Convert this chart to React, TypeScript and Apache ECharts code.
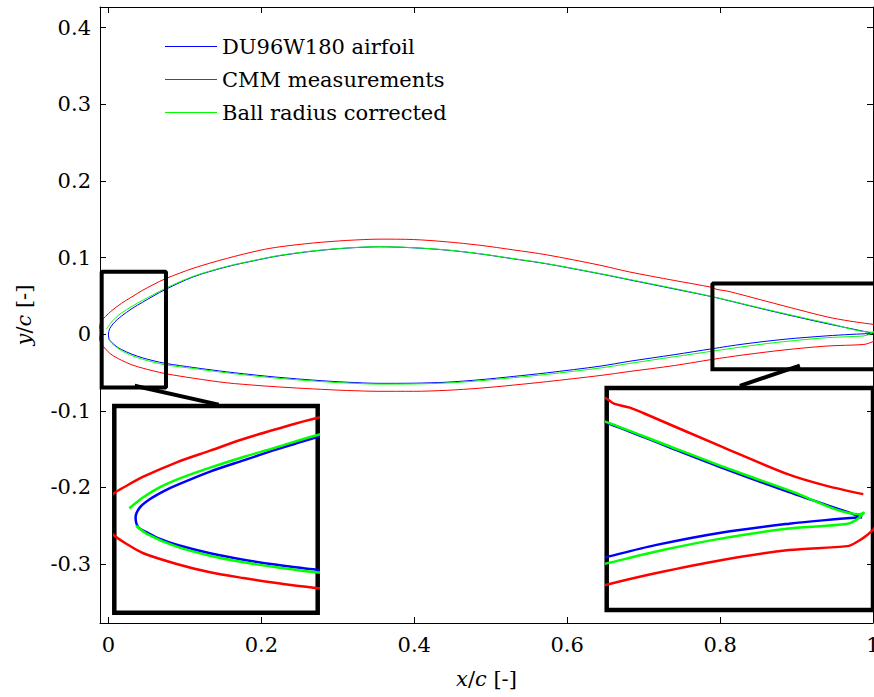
import React, { useEffect, useRef } from "react";
import * as echarts from "echarts";

const xTicks = [0, 0.2, 0.4, 0.6, 0.8, 1];
const yTicks = [-0.3, -0.2, -0.1, 0, 0.1, 0.2, 0.3, 0.4];

const seriesNames = ["DU96W180 airfoil", "CMM measurements", "Ball radius corrected"];

// DU96W180 airfoil: TE upper -> LE -> TE lower
const blueX = [1.0, 0.995, 0.94, 0.885, 0.84, 0.79, 0.74, 0.681, 0.643, 0.5733, 0.5296, 0.486, 0.4425, 0.3988, 0.3552, 0.3117, 0.268, 0.2244, 0.1983, 0.1547, 0.111, 0.0749, 0.0584, 0.0446, 0.0308, 0.017, 0.0115, 0.006, 0.0018, 0.0, 0.0011, 0.0046, 0.0101, 0.017, 0.0308, 0.0446, 0.0584, 0.0749, 0.111, 0.1547, 0.1983, 0.2244, 0.268, 0.3117, 0.3552, 0.3988, 0.4425, 0.486, 0.5296, 0.5733, 0.643, 0.681, 0.74, 0.79, 0.83, 0.885, 0.94, 0.97, 1.0];
const blueY = [0.001, 0.0022, 0.0137, 0.026, 0.0367, 0.0487, 0.059, 0.071, 0.0787, 0.0918, 0.0983, 0.1048, 0.1097, 0.1127, 0.114, 0.1123, 0.1084, 0.1025, 0.0975, 0.0879, 0.0748, 0.0585, 0.0496, 0.0416, 0.0334, 0.0235, 0.019, 0.0134, 0.0073, 0.0, -0.0073, -0.0109, -0.0158, -0.02, -0.0262, -0.0309, -0.0346, -0.0382, -0.0435, -0.0492, -0.054, -0.0565, -0.06, -0.0627, -0.0642, -0.064, -0.0627, -0.0595, -0.0552, -0.0505, -0.0418, -0.0355, -0.0268, -0.019, -0.013, -0.0066, -0.0022, -0.0004, 0.001];

// CMM measurements: TE upper -> LE -> lower -> past TE
const redX = [1.001, 0.97, 0.94, 0.885, 0.82, 0.809, 0.796, 0.789, 0.74, 0.681, 0.643, 0.5733, 0.5296, 0.486, 0.4425, 0.3988, 0.3552, 0.3117, 0.268, 0.2244, 0.1983, 0.1547, 0.111, 0.0749, 0.0584, 0.0446, 0.0308, 0.017, 0.0032, -0.0037, -0.0092, -0.0115, -0.0125, -0.0115, -0.0096, -0.0037, 0.0032, 0.017, 0.0308, 0.0446, 0.0584, 0.0749, 0.111, 0.1547, 0.1983, 0.2244, 0.268, 0.3117, 0.3552, 0.3988, 0.4425, 0.486, 0.5296, 0.5733, 0.643, 0.681, 0.74, 0.789, 0.83, 0.885, 0.94, 0.988, 0.996, 1.004, 1.01, 1.013];
const redY = [0.0127, 0.017, 0.0225, 0.0365, 0.0536, 0.0563, 0.0583, 0.0611, 0.0701, 0.0813, 0.09, 0.1035, 0.11, 0.116, 0.1205, 0.1235, 0.124, 0.1223, 0.119, 0.114, 0.1095, 0.0988, 0.086, 0.0725, 0.0645, 0.0572, 0.0487, 0.0402, 0.0297, 0.0231, 0.0171, 0.0105, 0.002, -0.0065, -0.0121, -0.0194, -0.0262, -0.034, -0.0401, -0.0443, -0.0479, -0.0516, -0.0575, -0.0635, -0.0672, -0.069, -0.0715, -0.0735, -0.0746, -0.0746, -0.0733, -0.0705, -0.0665, -0.062, -0.054, -0.0488, -0.041, -0.0331, -0.0272, -0.0205, -0.0155, -0.0135, -0.0113, -0.008, -0.0046, 0.0];

// Ball radius corrected: LE upper start -> TE -> lower -> LE lower start
const greenX = [-0.0026, 0.0032, 0.0101, 0.017, 0.0308, 0.0446, 0.0584, 0.0749, 0.111, 0.1547, 0.1983, 0.2244, 0.268, 0.3117, 0.3552, 0.3988, 0.4425, 0.486, 0.5296, 0.5733, 0.643, 0.681, 0.74, 0.79, 0.84, 0.885, 0.94, 0.998, 1.002, 0.995, 0.987, 0.94, 0.885, 0.84, 0.79, 0.74, 0.681, 0.643, 0.5733, 0.5296, 0.486, 0.4425, 0.3988, 0.3552, 0.3117, 0.268, 0.2244, 0.1983, 0.1547, 0.111, 0.0749, 0.0584, 0.0446, 0.0308, 0.017, 0.0046, 0.0002];
const greenY = [0.0066, 0.0147, 0.022, 0.0276, 0.0363, 0.0441, 0.0513, 0.06, 0.0755, 0.0884, 0.0979, 0.1029, 0.1087, 0.1125, 0.1142, 0.1129, 0.1099, 0.105, 0.0986, 0.0921, 0.0791, 0.0715, 0.0596, 0.049, 0.0372, 0.0267, 0.0146, 0.0026, 0.0035, -0.0004, -0.0024, -0.0046, -0.0096, -0.015, -0.0222, -0.0295, -0.0383, -0.0442, -0.0525, -0.0568, -0.0608, -0.0638, -0.065, -0.0652, -0.0638, -0.0612, -0.0578, -0.0553, -0.0505, -0.0448, -0.0401, -0.0365, -0.0328, -0.028, -0.0214, -0.012, -0.0061];

// zoom regions (data units) and connector lines
const leBoxX = [-0.0088, 0.0753];
const leBoxY = [-0.0696, 0.0813];
const teBoxX = [0.79, 1.009];
const teBoxY = [-0.0457, 0.0662];
const leLinkX = [0.037, 0.1416];
const leLinkY = [-0.0679, -0.0914];
const teLinkX = [0.9019, 0.8283];
const teLinkY = [-0.0418, -0.0666];

const colors = ["#0000ff", "#ff0000", "#00ff00"];
const FONT = "DejaVu Serif";
const FS = 21;

const zip = (xs: number[], ys: number[]) => xs.map((x, i) => [x, ys[i]]);
const boxData = (bx: number[], by: number[]) => [
  [bx[0], by[0]],
  [bx[1], by[0]],
  [bx[1], by[1]],
  [bx[0], by[1]],
  [bx[0], by[0]],
];
const fmt = (v: number) => String(parseFloat(v.toFixed(2)));

export default function App() {
  const ref = useRef<HTMLDivElement>(null);
  useEffect(() => {
    if (!ref.current) return;
    const chart = echarts.init(ref.current, null, { renderer: "svg" });
    const curves = [zip(blueX, blueY), zip(redX, redY), zip(greenX, greenY)];

    const mainSeries = curves.map((d, i) => ({
      type: "line",
      name: seriesNames[i],
      xAxisIndex: 0,
      yAxisIndex: 0,
      data: d,
      showSymbol: false,
      symbol: "none",
      smooth: 0.3,
      lineStyle: { color: colors[i], width: 1 },
      itemStyle: { color: colors[i] },
      z: 3,
    }));
    const insetSeries = [1, 2].flatMap((g) =>
      curves.map((d, i) => ({
        type: "line",
        name: seriesNames[i],
        xAxisIndex: g + 1,
        yAxisIndex: g + 1,
        data: d,
        showSymbol: false,
        symbol: "none",
        smooth: 0.3,
        clip: true,
        lineStyle: { color: colors[i], width: 2.5 },
        itemStyle: { color: colors[i] },
        z: 10,
      }))
    );
    const blackLine = (data: number[][], clip: boolean) => ({
      type: "line",
      name: "frame",
      xAxisIndex: 0,
      yAxisIndex: 0,
      data,
      showSymbol: false,
      symbol: "none",
      clip,
      lineStyle: { color: "#000", width: 4, cap: "square" },
      z: 12,
      silent: true,
    });

    const tickStyle = { color: "#000", width: 1 };
    const labelStyle = { fontFamily: FONT, fontSize: FS, color: "#000" };
    const nameRich = {
      i: { fontFamily: FONT, fontSize: FS, fontStyle: "italic", color: "#000" },
      n: { fontFamily: FONT, fontSize: FS, color: "#000" },
    };

    chart.setOption({
      animation: false,
      backgroundColor: "#fff",
      textStyle: { fontFamily: FONT },
      grid: [
        { left: 100, top: 7, width: 773, height: 616, containLabel: false, outerBoundsMode: "none" },
        { left: 114.3, top: 406, width: 203.4, height: 206.7, show: true, borderColor: "#000", borderWidth: 4.5, backgroundColor: "#fff", outerBoundsMode: "none" },
        { left: 606.7, top: 388, width: 266.3, height: 222, show: true, borderColor: "#000", borderWidth: 4.5, backgroundColor: "#fff", outerBoundsMode: "none" },
      ],
      legend: {
        data: seriesNames,
        orient: "vertical",
        left: 160,
        top: 31,
        icon: "rect",
        itemWidth: 52,
        itemHeight: 1,
        itemGap: 12,
        textStyle: { fontFamily: FONT, fontSize: FS, color: "#000" },
        selectedMode: false,
      },
      xAxis: [
        {
          gridIndex: 0,
          type: "value",
          min: -0.011,
          max: 1,
          position: "bottom",
          axisLine: { show: true, onZero: false, lineStyle: tickStyle },
          axisTick: { show: true, inside: true, length: 6, customValues: xTicks, lineStyle: tickStyle },
          axisLabel: { customValues: xTicks, formatter: fmt, margin: 11, ...labelStyle },
          splitLine: { show: false },
          name: "{i|x}{n|/}{i|c}{n| [-]}",
          nameLocation: "middle",
          nameGap: 45,
          nameTextStyle: { rich: nameRich },
        },
        {
          gridIndex: 0,
          type: "value",
          min: -0.011,
          max: 1,
          position: "top",
          axisLine: { show: true, onZero: false, lineStyle: tickStyle },
          axisTick: { show: true, inside: true, length: 6, customValues: xTicks, lineStyle: tickStyle },
          axisLabel: { show: false },
          splitLine: { show: false },
        },
        { gridIndex: 1, type: "value", min: leBoxX[0], max: leBoxX[1], show: false, splitLine: { show: false } },
        { gridIndex: 2, type: "value", min: teBoxX[0], max: teBoxX[1], show: false, splitLine: { show: false } },
      ],
      yAxis: [
        {
          gridIndex: 0,
          type: "value",
          min: -0.377,
          max: 0.427,
          position: "left",
          axisLine: { show: true, onZero: false, lineStyle: tickStyle },
          axisTick: { show: true, inside: true, length: 6, customValues: yTicks, lineStyle: tickStyle },
          axisLabel: { customValues: yTicks, formatter: fmt, margin: 9, ...labelStyle },
          splitLine: { show: false },
          name: "{i|y}{n|/}{i|c}{n| [-]}",
          nameLocation: "middle",
          nameGap: 66,
          nameRotate: 90,
          nameTextStyle: { rich: nameRich },
        },
        {
          gridIndex: 0,
          type: "value",
          min: -0.377,
          max: 0.427,
          position: "right",
          axisLine: { show: true, onZero: false, lineStyle: tickStyle },
          axisTick: { show: true, inside: true, length: 6, customValues: yTicks, lineStyle: tickStyle },
          axisLabel: { show: false },
          splitLine: { show: false },
        },
        { gridIndex: 1, type: "value", min: leBoxY[0], max: leBoxY[1], show: false, splitLine: { show: false } },
        { gridIndex: 2, type: "value", min: teBoxY[0], max: teBoxY[1], show: false, splitLine: { show: false } },
      ],
      series: [
        ...mainSeries,
        ...insetSeries,
        blackLine(boxData(leBoxX, leBoxY), true),
        blackLine(boxData(teBoxX, teBoxY), true),
        blackLine(zip(leLinkX, leLinkY), false),
        blackLine(zip(teLinkX, teLinkY), false),
      ],
    });
    return () => chart.dispose();
  }, []);
  return <div ref={ref} style={{ width: 874, height: 697, position: "absolute", left: 0, top: 0 }} />;
}
